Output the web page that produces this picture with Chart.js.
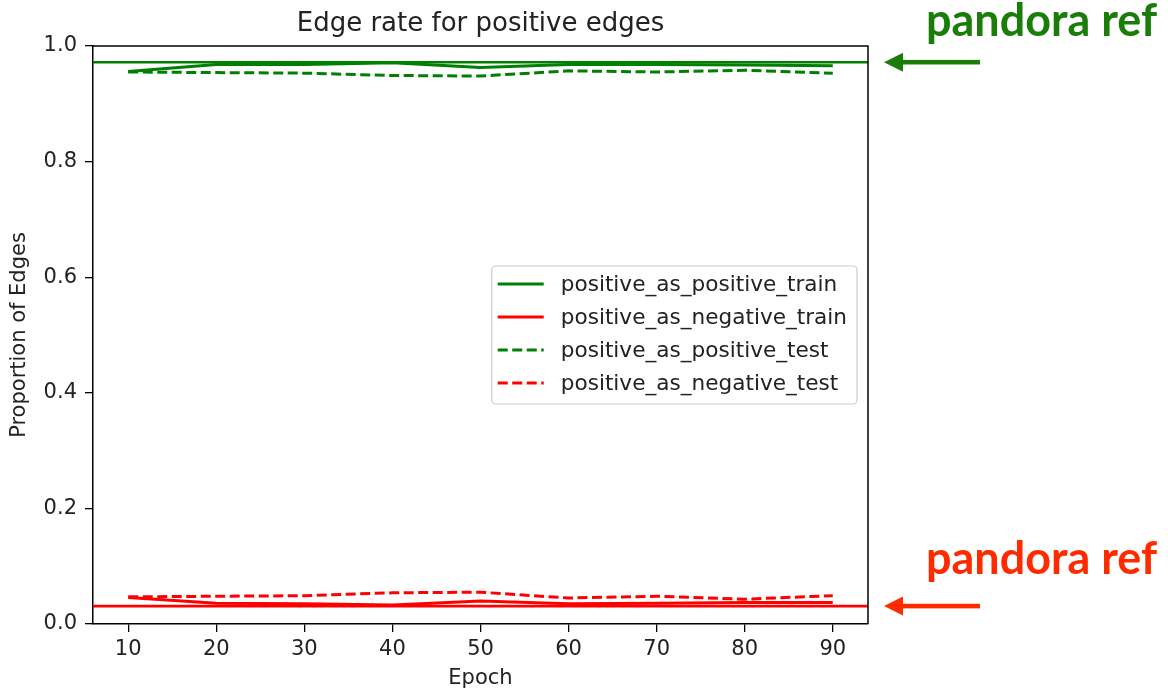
<!DOCTYPE html>
<html><head><meta charset="utf-8">
<script src="https://cdn.jsdelivr.net/npm/chart.js@4.4.1/dist/chart.umd.min.js"></script>
<style>html,body{margin:0;padding:0;background:#fff;}canvas{display:block;}</style>
</head><body>
<canvas id="c" width="1168" height="692"></canvas>
<script>
// ---- data ----
const epochs = [10, 20, 30, 40, 50, 60, 70, 80, 90];
const positiveAsPositiveTrain = [0.956, 0.968, 0.968, 0.971, 0.963, 0.968, 0.968, 0.967, 0.966];
const positiveAsNegativeTrain = [0.046, 0.036, 0.035, 0.033, 0.040, 0.035, 0.036, 0.037, 0.037];
const positiveAsPositiveTest  = [0.955, 0.954, 0.953, 0.949, 0.948, 0.957, 0.955, 0.958, 0.953];
const positiveAsNegativeTest  = [0.047, 0.048, 0.049, 0.054, 0.055, 0.045, 0.048, 0.043, 0.049];
const pandoraRefPositive = 0.972;
const pandoraRefNegative = 0.031;
const seriesLabels = ['positive_as_positive_train', 'positive_as_negative_train', 'positive_as_positive_test', 'positive_as_negative_test'];
const xTickValues = [10, 20, 30, 40, 50, 60, 70, 80, 90];
const yTickValues = [0.0, 0.2, 0.4, 0.6, 0.8, 1.0];
const chartTitle = 'Edge rate for positive edges';
const xAxisTitle = 'Epoch';
const yAxisTitle = 'Proportion of Edges';
const annotationText = 'pandora ref';

// ---- styles ----
const GREEN = '#008000', RED = '#ff0000';
const ANN_GREEN = '#1a7d0a', ANN_RED = '#ff2b00';
const FONT = 'DejaVu Sans';
const TXT = '#222222';
const FS = 21;
const X_MIN = 6, X_MAX = 94;

const pts = (arr) => arr.map((v, i) => ({x: epochs[i], y: v}));
const flat = (v) => [{x: X_MIN, y: v}, {x: X_MAX, y: v}];

const lineW = 3;
const dash = [10, 4.5];

const datasets = [
  {label: seriesLabels[0], data: pts(positiveAsPositiveTrain), borderColor: GREEN, borderWidth: lineW, order: 4},
  {label: seriesLabels[1], data: pts(positiveAsNegativeTrain), borderColor: RED, borderWidth: lineW, order: 3},
  {label: seriesLabels[2], data: pts(positiveAsPositiveTest), borderColor: GREEN, borderWidth: lineW, borderDash: dash, order: 2},
  {label: seriesLabels[3], data: pts(positiveAsNegativeTest), borderColor: RED, borderWidth: lineW, borderDash: dash, order: 1},
  {label: 'ref_pos', data: flat(pandoraRefPositive), borderColor: GREEN, borderWidth: 2.6, order: 0, isRef: true},
  {label: 'ref_neg', data: flat(pandoraRefNegative), borderColor: RED, borderWidth: 2.6, order: 0, isRef: true}
];
datasets.forEach(d => { d.pointRadius = 0; d.pointHoverRadius = 0; d.fill = false; d.tension = 0; d.backgroundColor = d.borderColor; });

const decorPlugin = {
  id: 'decor',
  afterDraw(chart) {
    const ctx = chart.ctx, a = chart.chartArea;
    const ys = chart.scales.y;
    ctx.save();
    // top and right spines
    ctx.strokeStyle = '#000'; ctx.lineWidth = 1.5;
    ctx.beginPath();
    ctx.moveTo(a.left, a.top); ctx.lineTo(a.right, a.top); ctx.lineTo(a.right, a.bottom);
    ctx.stroke();
    // title
    ctx.fillStyle = TXT; ctx.font = '26px "' + FONT + '"';
    ctx.textAlign = 'center'; ctx.textBaseline = 'middle';
    ctx.fillText(chartTitle, (a.left + a.right) / 2, 24);
    // legend
    const ds = chart.data.datasets.filter(d => !d.isRef);
    ctx.font = '21.6px "' + FONT + '"';
    let maxW = 0; ds.forEach(d => { maxW = Math.max(maxW, ctx.measureText(d.label).width); });
    const boxR = a.right - 11, boxW = 69 + maxW + 10, boxL = boxR - boxW;
    const rowH = 33, boxH = rowH * ds.length + 6;
    const boxT = (a.top + a.bottom) / 2 - boxH / 2;
    ctx.fillStyle = 'rgba(255,255,255,0.85)'; ctx.strokeStyle = '#cccccc'; ctx.lineWidth = 1.2;
    ctx.beginPath(); ctx.roundRect(boxL, boxT, boxW, boxH, 4); ctx.fill(); ctx.stroke();
    ds.forEach((d, i) => {
      const cy = boxT + 18 + i * rowH;
      ctx.strokeStyle = d.borderColor; ctx.lineWidth = lineW;
      ctx.setLineDash(d.borderDash || []);
      ctx.beginPath(); ctx.moveTo(boxL + 6, cy); ctx.lineTo(boxL + 52, cy); ctx.stroke();
      ctx.setLineDash([]);
      ctx.fillStyle = TXT; ctx.textAlign = 'left'; ctx.textBaseline = 'middle';
      ctx.fillText(d.label, boxL + 69, cy + 1);
    });
    // annotations
    const drawAnn = (val, color, textDy) => {
      const y = ys.getPixelForValue(val);
      const tip = a.right + 16, tail = a.right + 112;
      ctx.fillStyle = color;
      ctx.fillRect(tip + 16, y - 2.3, tail - tip - 16, 4.6);
      ctx.beginPath(); ctx.moveTo(tip, y); ctx.lineTo(tip + 19, y - 9.5); ctx.lineTo(tip + 19, y + 9.5); ctx.closePath(); ctx.fill();
      ctx.font = 'bold 45px Lato';
      ctx.textAlign = 'left'; ctx.textBaseline = 'alphabetic';
      const w = ctx.measureText(annotationText).width;
      ctx.save();
      ctx.translate(926, y - textDy);
      ctx.scale(231 / w, 1);
      ctx.fillText(annotationText, 0, 0);
      ctx.restore();
    };
    drawAnn(pandoraRefPositive, ANN_GREEN, 26);
    drawAnn(pandoraRefNegative, ANN_RED, 32);
    ctx.restore();
  }
};

new Chart(document.getElementById('c'), {
  type: 'line',
  data: {datasets},
  plugins: [decorPlugin],
  options: {
    responsive: false, animation: false, devicePixelRatio: 1,
    layout: {padding: {top: 46, right: 300, left: 0, bottom: 0}},
    plugins: {legend: {display: false}, title: {display: false}, tooltip: {enabled: false}},
    scales: {
      x: {
        type: 'linear', min: X_MIN, max: X_MAX,
        afterBuildTicks: s => { s.ticks = xTickValues.map(v => ({value: v})); },
        afterFit: s => { s.height = 68; },
        grid: {display: true, drawOnChartArea: false, drawTicks: true, tickLength: 8, color: '#000', lineWidth: 1.3},
        border: {display: true, color: '#000', width: 1.5},
        ticks: {color: TXT, font: {family: FONT, size: FS}, padding: 5, maxRotation: 0, autoSkip: false},
        title: {display: true, text: xAxisTitle, color: TXT, font: {family: FONT, size: FS}, padding: {top: 0, bottom: 1}}
      },
      y: {
        type: 'linear', min: 0, max: 1,
        afterBuildTicks: s => { s.ticks = yTickValues.map(v => ({value: v})); },
        afterFit: s => { s.width = 93; },
        grid: {display: true, drawOnChartArea: false, drawTicks: true, tickLength: 8, color: '#000', lineWidth: 1.3},
        border: {display: true, color: '#000', width: 1.5},
        ticks: {color: TXT, font: {family: FONT, size: FS}, padding: 8, callback: v => Number(v).toFixed(1)},
        title: {display: true, text: yAxisTitle, color: TXT, font: {family: FONT, size: FS}, padding: {top: 7, bottom: 0}}
      }
    }
  }
});
</script>
</body></html>
